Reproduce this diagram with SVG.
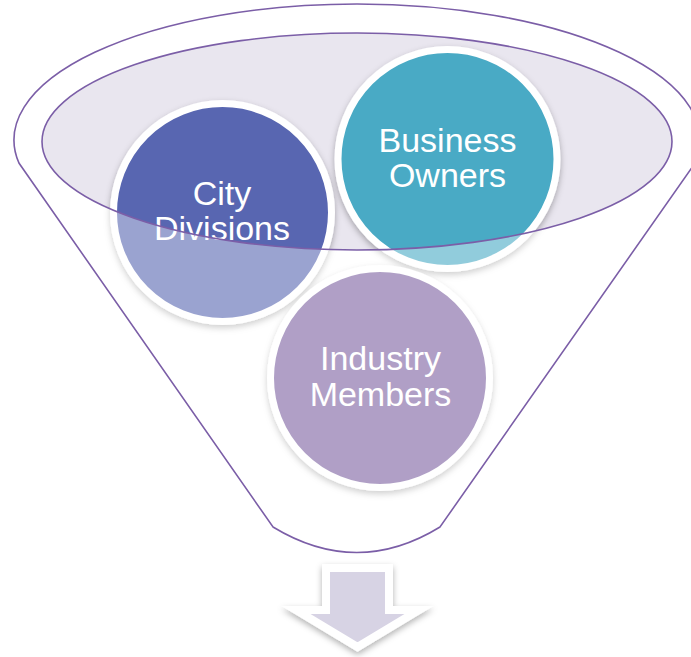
<svg xmlns="http://www.w3.org/2000/svg" width="691" height="657" viewBox="0 0 691 657">
  <style>
    .lbl { font-family: "Liberation Sans", Arial, sans-serif; font-size: 34px; fill: #ffffff; text-anchor: middle; }
    .bubble { stroke: #ffffff; stroke-width: 7; filter: url(#shadow); }
    .line { fill: none; stroke: #7b5ea7; stroke-width: 1.6; }
  </style>
  <defs>
    <filter id="shadow" x="-20%" y="-20%" width="140%" height="140%">
      <feDropShadow dx="0" dy="3" stdDeviation="3" flood-color="#000000" flood-opacity="0.3"/>
    </filter>
  </defs>

  <g id="funnel-base">
    <path d="M18.94,163 A343,136 0 1 1 695.06,163 L440,527 Q357,578 273,527 Z" fill="#ffffff"/>
    <ellipse cx="357" cy="141.5" rx="315" ry="108.5" fill="#e9e6ef"/>
  </g>

  <g id="node-city-divisions">
    <circle class="bubble" cx="222.5" cy="212.5" r="109" fill="#5866b1"/>
    <text class="lbl" x="222" y="205">City</text>
    <text class="lbl" x="222" y="240">Divisions</text>
  </g>

  <g id="node-business-owners">
    <circle class="bubble" cx="447.5" cy="159" r="109.5" fill="#4aaac5"/>
    <text class="lbl" x="447.5" y="152">Business</text>
    <text class="lbl" x="447.5" y="187">Owners</text>
  </g>

  <g id="node-industry-members">
    <circle class="bubble" cx="380" cy="378" r="109.5" fill="#7b61a0"/>
    <text class="lbl" x="380.5" y="370">Industry</text>
    <text class="lbl" x="380.5" y="406">Members</text>
  </g>

  <g id="funnel-overlay">
    <path fill="#ffffff" fill-opacity="0.4" fill-rule="evenodd"
      d="M18.94,163 A343,136 0 1 1 695.06,163 L440,527 Q357,578 273,527 Z
         M42,141.5 A315,108.5 0 1 0 672,141.5 A315,108.5 0 1 0 42,141.5 Z"/>
  </g>

  <g id="funnel-lines">
    <path class="line" d="M18.94,163 A343,136 0 1 1 695.06,163 L440,527 Q357,578 273,527 Z"/>
    <ellipse class="line" cx="357" cy="141.5" rx="315" ry="108.5"/>
  </g>

  <g id="connectors">
    <g id="arrow">
      <path d="M326,568 L389,568 L389,610 L419,610 L357.5,647 L296,610 L326,610 Z"
        fill="#d7d3e4" stroke="#ffffff" stroke-width="8" stroke-linejoin="miter" filter="url(#shadow)"/>
    </g>
  </g>
</svg>
